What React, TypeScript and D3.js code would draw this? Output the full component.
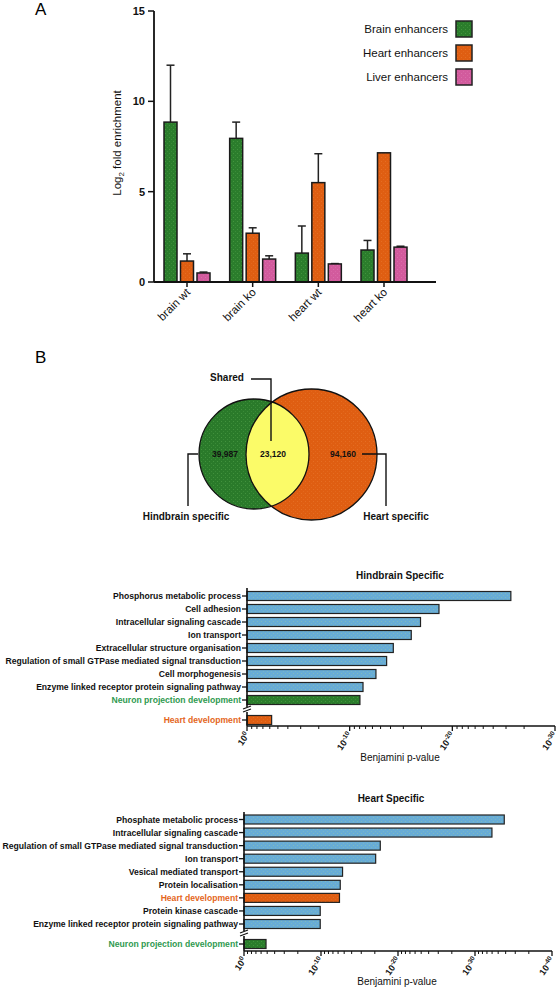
import React from "react";
import * as d3 from "d3";

const GROUPS = ["brain wt", "brain ko", "heart wt", "heart ko"];
const BRAIN_ENH = [8.85, 7.95, 1.6, 1.77];
const BRAIN_SEM = [3.15, 0.9, 1.5, 0.53];
const HEART_ENH = [1.16, 2.7, 5.5, 7.15];
const HEART_SEM = [0.4, 0.3, 1.6, 0.0];
const LIVER_ENH = [0.5, 1.27, 1.0, 1.93];
const LIVER_SEM = [0.05, 0.18, 0.02, 0.05];
const Y_TICKS = [0, 5, 10, 15];
const LEGEND = ["Brain enhancers", "Heart enhancers", "Liver enhancers"];

const VENN_COUNTS = ["39,987", "23,120", "94,160"];

const HB_TERMS = [
  "Phosphorus metabolic process",
  "Cell adhesion",
  "Intracellular signaling cascade",
  "Ion transport",
  "Extracellular structure organisation",
  "Regulation of small GTPase mediated signal transduction",
  "Cell morphogenesis",
  "Enzyme linked receptor protein signaling pathway",
  "Neuron projection development",
];
const HB_VALUES = [25.7, 18.7, 16.9, 16.0, 14.25, 13.6, 12.56, 11.3, 11.0];
const HB_KIND = ["go", "go", "go", "go", "go", "go", "go", "go", "neuron"];
const HB_EXTRA_TERM = "Heart development";
const HB_EXTRA_VALUE = 2.4;
const HB_TICKS = [0, 10, 20, 30];

const HT_TERMS = [
  "Phosphate metabolic process",
  "Intracellular signaling cascade",
  "Regulation of small GTPase mediated signal transduction",
  "Ion transport",
  "Vesical mediated transport",
  "Protein localisation",
  "Heart development",
  "Protein kinase cascade",
  "Enzyme linked receptor protein signaling pathway",
];
const HT_VALUES = [33.8, 32.2, 17.7, 17.1, 12.8, 12.5, 12.4, 9.9, 9.9];
const HT_KIND = ["go", "go", "go", "go", "go", "go", "heart", "go", "go"];
const HT_EXTRA_TERM = "Neuron projection development";
const HT_EXTRA_VALUE = 2.86;
const HT_TICKS = [0, 10, 20, 30, 40];

const C_GREEN = "#2b7d2c";
const C_ORANGE = "#df5e12";
const C_PINK = "#d25b9d";
const C_BLUE = "#68acd6";
const C_YELLOW = "#fbfb68";
const T_GREEN = "#2f9a50";
const T_ORANGE = "#e4661c";

const FONT = "'Liberation Sans', Arial, Helvetica, sans-serif";

const fillFor = (k: string) =>
  k === "neuron" ? "url(#pGreen)" : k === "heart" ? "url(#pOrange)" : "url(#pBlue)";
const textFor = (k: string) => (k === "neuron" ? T_GREEN : k === "heart" ? T_ORANGE : "#111");

function Patterns() {
  const mk = (id: string, base: string, dot: string) => (
    <pattern id={id} width={4} height={4} patternUnits="userSpaceOnUse">
      <rect width={4} height={4} fill={base} />
      <rect x={1} y={1} width={0.8} height={0.8} fill={dot} opacity={0.55} />
      <rect x={3} y={3} width={0.8} height={0.8} fill={dot} opacity={0.35} />
    </pattern>
  );
  return (
    <defs>
      {mk("pGreen", C_GREEN, "#6fbf5f")}
      {mk("pOrange", C_ORANGE, "#f08a40")}
      {mk("pPink", C_PINK, "#e98fc4")}
      {mk("pBlue", C_BLUE, "#a8d890")}
      {mk("pGreenV", "#2a7a2a", "#6fbf5f")}
    </defs>
  );
}

function PanelA() {
  const y = d3.scaleLinear().domain([0, 15]).range([282, 11]);
  const gx = d3.scalePoint<string>().domain(GROUPS).range([187, 384]);
  const axisX0 = 154;
  const axisX1 = 436;
  const series = [
    { vals: BRAIN_ENH, sem: BRAIN_SEM, fill: "url(#pGreen)", off: -16.5 },
    { vals: HEART_ENH, sem: HEART_SEM, fill: "url(#pOrange)", off: 0 },
    { vals: LIVER_ENH, sem: LIVER_SEM, fill: "url(#pPink)", off: 16.5 },
  ];
  const bw = 13;
  const legendFills = ["url(#pGreen)", "url(#pOrange)", "url(#pPink)"];
  return (
    <g fontFamily={FONT}>
      <text x={35} y={15} fontSize={17}>A</text>
      {series.map((s, si) =>
        GROUPS.map((g, i) => {
          const cx = (gx(g) as number) + s.off;
          const top = y(s.vals[i]);
          const et = y(s.vals[i] + s.sem[i]);
          return (
            <g key={si + "-" + i}>
              {s.sem[i] > 0 && (
                <g stroke="#222" strokeWidth={1.5}>
                  <line x1={cx} x2={cx} y1={top} y2={et} />
                  <line x1={cx - 4} x2={cx + 4} y1={et} y2={et} />
                </g>
              )}
              <rect x={cx - bw / 2} y={top} width={bw} height={y(0) - top} fill={s.fill} stroke="#1a1a1a" strokeWidth={1.5} />
            </g>
          );
        })
      )}
      <line x1={axisX0} x2={axisX0} y1={y(15)} y2={y(0)} stroke="#111" strokeWidth={1.8} />
      <line x1={axisX0} x2={axisX1} y1={y(0)} y2={y(0)} stroke="#111" strokeWidth={1.8} />
      {Y_TICKS.map((t) => (
        <g key={t}>
          <line x1={axisX0 - 6} x2={axisX0} y1={y(t)} y2={y(t)} stroke="#111" strokeWidth={1.5} />
          <text x={axisX0 - 9} y={y(t) + 4} fontSize={11} fontWeight="bold" textAnchor="end" fill="#111">{t}</text>
        </g>
      ))}
      {GROUPS.map((g) => {
        const x = gx(g) as number;
        return (
          <g key={g}>
            <line x1={x} x2={x} y1={y(0)} y2={y(0) + 5} stroke="#111" strokeWidth={1.5} />
            <text transform={`translate(${x + 4},${y(0) + 11}) rotate(-45)`} textAnchor="end" fontSize={11.5} fill="#111">{g}</text>
          </g>
        );
      })}
      <text transform={`translate(121,143) rotate(-90)`} textAnchor="middle" fontSize={11.5} fill="#111">
        Log<tspan fontSize={8} dy={3}>2</tspan><tspan dy={-3}> fold enrichment</tspan>
      </text>
      {LEGEND.map((l, i) => (
        <g key={l}>
          <text x={448} y={33 + i * 24} textAnchor="end" fontSize={11.5} fill="#111">{l}</text>
          <rect x={456} y={21 + i * 24} width={16} height={16} fill={legendFills[i]} stroke="#222" strokeWidth={1.5} />
        </g>
      ))}
    </g>
  );
}

function PanelB() {
  const g = { cx: 254, cy: 454, r: 55 };
  const o = { cx: 311.5, cy: 454.5, r: 65.5 };
  return (
    <g fontFamily={FONT}>
      <text x={35} y={363} fontSize={17}>B</text>
      <defs>
        <clipPath id="clipGreen">
          <circle cx={g.cx} cy={g.cy} r={g.r} />
        </clipPath>
      </defs>
      <circle cx={g.cx} cy={g.cy} r={g.r} fill="url(#pGreenV)" />
      <circle cx={o.cx} cy={o.cy} r={o.r} fill="url(#pOrange)" />
      <circle cx={o.cx} cy={o.cy} r={o.r} fill={C_YELLOW} clipPath="url(#clipGreen)" />
      <circle cx={g.cx} cy={g.cy} r={g.r} fill="none" stroke="#111" strokeWidth={1.3} />
      <circle cx={o.cx} cy={o.cy} r={o.r} fill="none" stroke="#111" strokeWidth={1.3} />
      <g fontWeight="bold" fontSize={8.5} textAnchor="middle" fill="#111">
        <text x={225} y={457}>{VENN_COUNTS[0]}</text>
        <text x={273} y={457}>{VENN_COUNTS[1]}</text>
        <text x={343} y={457}>{VENN_COUNTS[2]}</text>
      </g>
      <g stroke="#111" strokeWidth={1.4} fill="none">
        <polyline points="251,379 271,379 271,441" />
        <polyline points="198,454 188,454 188,506" />
        <polyline points="362,454 386,454 386,506" />
      </g>
      <g fontWeight="bold" fontSize={10} fill="#111" textAnchor="middle">
        <text x={227} y={381}>Shared</text>
        <text x={186} y={520}>Hindbrain specific</text>
        <text x={396} y={520}>Heart specific</text>
      </g>
    </g>
  );
}

type GoProps = {
  title: string;
  titleX: number;
  titleY: number;
  terms: string[];
  values: number[];
  kinds: string[];
  extraTerm: string;
  extraValue: number;
  extraKind: string;
  ticks: number[];
  x0: number;
  x1: number;
  yTop: number;
  yBottom: number;
  extraY: number;
  axisY: number;
  lineTop: number;
  labelX: number;
  labelY: number;
};

function GoChart(p: GoProps) {
  const max = p.ticks[p.ticks.length - 1];
  const x = d3.scaleLinear().domain([0, max]).range([p.x0, p.x1]);
  const y = d3.scalePoint<string>().domain(p.terms).range([p.yTop, p.yBottom]);
  const bh = 9;
  const minor: number[] = [];
  for (let m = 0; m < max; m += 10) {
    for (let k = 2; k <= 9; k++) minor.push(m + 10 - 10 * Math.log10(k));
  }
  const rows = p.terms.map((t, i) => ({ t, v: p.values[i], k: p.kinds[i], yy: y(t) as number }));
  rows.push({ t: p.extraTerm, v: p.extraValue, k: p.extraKind, yy: p.extraY });
  const breakY = (p.yBottom + p.extraY) / 2 - 1;
  return (
    <g fontFamily={FONT}>
      <text x={p.titleX} y={p.titleY} textAnchor="middle" fontWeight="bold" fontSize={10} fill="#111">{p.title}</text>
      {rows.map((r) => (
        <g key={r.t}>
          <rect x={x(0)} y={r.yy - bh / 2} width={x(r.v) - x(0)} height={bh} fill={fillFor(r.k)} stroke="#222" strokeWidth={1.2} />
          <line x1={p.x0 - 5} x2={p.x0} y1={r.yy} y2={r.yy} stroke="#111" strokeWidth={1.3} />
          <text x={p.x0 - 6} y={r.yy + 3} textAnchor="end" fontWeight="bold" fontSize={8.6} fill={textFor(r.k)}>{r.t}</text>
        </g>
      ))}
      <g stroke="#111" strokeWidth={1.6}>
        <line x1={p.x0} x2={p.x0} y1={p.lineTop} y2={breakY - 2} />
        <line x1={p.x0} x2={p.x0} y1={breakY + 3} y2={p.axisY} />
        <line x1={p.x0} x2={p.x1} y1={p.axisY} y2={p.axisY} />
      </g>
      <g stroke="#111" strokeWidth={1.2}>
        <line x1={p.x0 - 4} x2={p.x0 + 4} y1={breakY} y2={breakY - 3} />
        <line x1={p.x0 - 4} x2={p.x0 + 4} y1={breakY + 3} y2={breakY} />
      </g>
      {minor.map((m, i) => (
        <line key={i} x1={x(m)} x2={x(m)} y1={p.axisY} y2={p.axisY + 3} stroke="#111" strokeWidth={1} />
      ))}
      {p.ticks.map((t) => (
        <g key={t}>
          <line x1={x(t)} x2={x(t)} y1={p.axisY} y2={p.axisY + 5} stroke="#111" strokeWidth={1.3} />
          <text transform={`translate(${x(t) + 3},${p.axisY + 9}) rotate(-55)`} textAnchor="end" fontWeight="bold" fontSize={9} fill="#111">
            10<tspan dy={-3.5} fontSize={6.5}>{t === 0 ? "0" : "-" + t}</tspan>
          </text>
        </g>
      ))}
      <text x={p.labelX} y={p.labelY} textAnchor="middle" fontSize={10} fill="#111">Benjamini p-value</text>
    </g>
  );
}

export default function App() {
  return (
    <svg
      width={556}
      height={989}
      viewBox="0 0 556 989"
      style={{ position: "absolute", left: 0, top: 0, display: "block", background: "#fff" }}
    >
      <Patterns />
      <rect x={0} y={0} width={556} height={989} fill="#fff" />
      <PanelA />
      <PanelB />
      <GoChart
        title="Hindbrain Specific"
        titleX={400}
        titleY={579}
        terms={HB_TERMS}
        values={HB_VALUES}
        kinds={HB_KIND}
        extraTerm={HB_EXTRA_TERM}
        extraValue={HB_EXTRA_VALUE}
        extraKind="heart"
        ticks={HB_TICKS}
        x0={247}
        x1={555}
        yTop={596}
        yBottom={700}
        extraY={720}
        axisY={726}
        lineTop={588}
        labelX={400}
        labelY={761}
      />
      <GoChart
        title="Heart Specific"
        titleX={391}
        titleY={802}
        terms={HT_TERMS}
        values={HT_VALUES}
        kinds={HT_KIND}
        extraTerm={HT_EXTRA_TERM}
        extraValue={HT_EXTRA_VALUE}
        extraKind="neuron"
        ticks={HT_TICKS}
        x0={244}
        x1={552}
        yTop={819.5}
        yBottom={924}
        extraY={944}
        axisY={951}
        lineTop={812}
        labelX={397}
        labelY={985}
      />
    </svg>
  );
}
